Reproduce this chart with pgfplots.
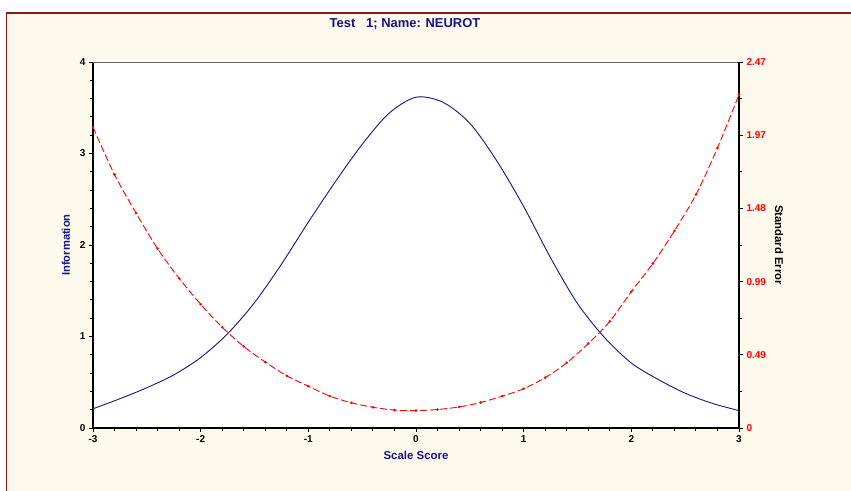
\documentclass[border=0pt]{standalone}
\usepackage{pgfplots}
\pgfplotsset{compat=1.18}
\usepackage{fontspec}
\setmainfont{Liberation Sans}

\definecolor{infoblue}{RGB}{20,20,135}
\definecolor{framered}{RGB}{140,25,25}
\definecolor{panel}{RGB}{254,249,237}
\definecolor{seRed}{RGB}{255,0,0}

% Test information (left axis)
\pgfplotstableread{
x     info
-3.00 0.21
-2.75 0.32
-2.50 0.44
-2.25 0.58
-2.00 0.77
-1.75 1.03
-1.50 1.37
-1.25 1.79
-1.00 2.25
-0.75 2.69
-0.50 3.10
-0.25 3.44
 0.00 3.615
 0.25 3.56
 0.50 3.33
 0.75 2.92
 1.00 2.42
 1.25 1.86
 1.50 1.36
 1.75 0.99
 2.00 0.71
 2.25 0.53
 2.50 0.38
 2.75 0.27
 3.00 0.19
}\infotable

% Standard error (right axis)
\pgfplotstableread{
x    se
-3.0 2.03
-2.8 1.71
-2.6 1.45
-2.4 1.21
-2.2 1.01
-2.0 0.835
-1.8 0.68
-1.6 0.55
-1.4 0.445
-1.2 0.352
-1.0 0.282
-0.8 0.215
-0.6 0.170
-0.4 0.140
-0.2 0.121
 0.0 0.117
 0.2 0.125
 0.4 0.142
 0.6 0.172
 0.8 0.215
 1.0 0.265
 1.2 0.340
 1.4 0.440
 1.6 0.570
 1.8 0.720
 2.0 0.920
 2.2 1.110
 2.4 1.330
 2.6 1.575
 2.8 1.890
 3.0 2.250
}\setable

\begin{document}
\begin{tikzpicture}
% page and panel
\useasboundingbox (0,0) rectangle (851bp,491bp);
\fill[white] (0,0) rectangle (851bp,491bp);
\fill[panel] (6.5bp,0) rectangle (851bp,478bp);
\draw[framered, line width=1.4bp] (6.5bp,0) -- (6.5bp,478bp) -- (851bp,478bp);

\node[font=\fontsize{13}{15}\selectfont\bfseries, text=infoblue] at (405bp,467.5bp)
  {Test\ \ \ 1; Name: NEUROT};

\pgfplotsset{
  common/.style={
    scale only axis,
    width=646bp, height=366bp,
    at={(93bp,63bp)}, anchor=south west,
    xmin=-3, xmax=3,
    /pgf/number format/assume math mode=true,
    tick align=outside,
    major tick length=4bp,
    minor tick length=3bp,
    every tick/.style={black, line width=0.9bp},
    ticklabel style={font=\fontsize{10}{12}\selectfont\bfseries},
  }
}

\begin{axis}[
  common,
  axis background/.style={fill=white},
  ymin=0, ymax=4,
  axis x line*=bottom,
  axis y line*=left,
  axis line style={black, line width=1.6bp},
  xtick={-3,-2,-1,0,1,2,3},
  minor x tick num=4,
  ytick={0,1,2,3,4},
  minor y tick num=4,
  xlabel={Scale Score},
  ylabel={Information},
  xlabel style={font=\fontsize{11.5}{13}\selectfont\bfseries, text=infoblue,
    at={(axis description cs:0.5,-0.074)}, anchor=center},
  ylabel style={font=\fontsize{11.2}{13}\selectfont\bfseries, text=infoblue,
    at={(axis description cs:-0.042,0.5)}, anchor=center},
]
\draw[gray!80!black, line width=0.8bp] (rel axis cs:0,1) -- (rel axis cs:1,1);
\addplot[infoblue, line width=0.9bp, smooth] table[x=x, y=info] {\infotable};
\end{axis}

\begin{axis}[
  common,
  ymin=0, ymax=2.47,
  axis x line=none,
  axis y line*=right,
  axis line style={black, line width=1.6bp},
  ytick={0,0.494,0.988,1.482,1.976,2.47},
  yticklabels={0,0.49,0.99,1.48,1.97,2.47},
  minor y tick num=1,
  yticklabel style={text=seRed},
  ylabel={Standard Error},
  ylabel style={font=\fontsize{11.3}{13}\selectfont\bfseries, text=black,
    at={(axis description cs:1.062,0.5)}, anchor=center, rotate=180},
]
\addplot[seRed, line width=0.9bp, dash pattern=on 7bp off 3bp, smooth,
  mark=*, mark size=0.8bp, mark options={solid, fill=seRed}]
  table[x=x, y=se] {\setable};
\end{axis}
\end{tikzpicture}
\end{document}
